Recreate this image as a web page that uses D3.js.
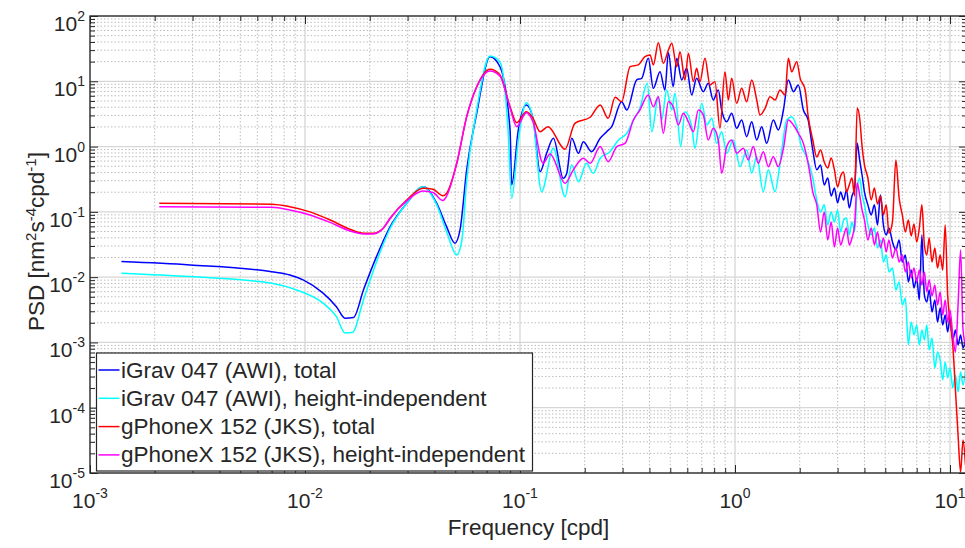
<!DOCTYPE html>
<html><head><meta charset="utf-8">
<script src="https://cdn.jsdelivr.net/npm/d3@7"></script>
<style>
body{margin:0;background:#fff}
svg{display:block}
text{font-family:"Liberation Sans",Arial,Helvetica,sans-serif;fill:#262626}
</style>
</head><body><svg id="c" width="965" height="548"></svg>
<script>
// ---------------- data ----------------
const seriesNames = [
  "iGrav 047 (AWI), total",
  "iGrav 047 (AWI), height-independent",
  "gPhoneX 152 (JKS), total",
  "gPhoneX 152 (JKS), height-independent"
];
const xTickValues = [1e-3, 1e-2, 1e-1, 1, 10];
const xTickExps = ["-3", "-2", "-1", "0", "1"];
const yTickValues = [1e-5, 1e-4, 1e-3, 1e-2, 1e-1, 1, 10, 100];
const yTickExps = ["-5", "-4", "-3", "-2", "-1", "0", "1", "2"];
const xLabel = "Frequency [cpd]";

// [frequency (cpd), PSD]
const igravTotal = [
[0.0014,0.0173],[0.00292,0.0154],[0.007,0.0121],[0.0085,0.0108],[0.0098,0.00906],[0.0121,0.00573],[0.014,0.00353],[0.01535,0.00235],[0.0168,0.0024],[0.0187,0.00637],[0.0215,0.0206],[0.0249,0.0593],[0.0297,0.135],[0.0355,0.243],[0.041,0.135],[0.0456,0.059],[0.0498,0.033],[0.0526,0.0528],[0.0565,0.44],[0.0629,3.24],[0.0725,23.8],[0.0807,16.7],[0.0899,1.8],[0.0915,0.258],[0.0982,1.8],[0.107,4.34],[0.115,2.71],[0.124,0.413],[0.133,0.79],[0.143,1.34],[0.159,0.327],[0.165,0.39],[0.174,1.34],[0.187,0.79],[0.197,1.19],[0.215,0.835],[0.236,1.34],[0.253,1.69],[0.267,2.02],[0.297,4.87],[0.314,3.63],[0.349,10.5],[0.368,11.1],[0.395,22.5],[0.417,7.81],[0.448,14.0],[0.472,7.36],[0.49,27.4],[0.516,8.26],[0.536,22.5],[0.565,10.5],[0.596,15.8],[0.629,6.17],[0.663,11.1],[0.712,6.93],[0.751,9.3],[0.792,5.17],[0.836,7.36],[0.867,3.63],[0.915,2.4],[0.965,3.24],[1.018,1.91],[1.074,2.55],[1.133,1.42],[1.196,2.4],[1.262,1.26],[1.331,2.02],[1.404,1.12],[1.507,2.55],[1.59,1.8],[1.68,3.63],[1.77,10.5],[1.87,6.93],[1.97,8.78],[2.08,3.63],[2.19,2.55],
[2.3,0.887],[2.4,0.44],[2.5,0.523],[2.6,0.258],[2.7,0.33],[2.8,0.175],[2.9,0.232],[3.0,0.137],[3.1,0.202],[3.2,0.152],[3.3,0.216],[3.4,0.115],[3.5,0.175],[3.6,0.232],[3.7,1.135],[3.8,0.624],[3.9,0.367],[4.0,0.202],[4.15,0.128],[4.3,0.0897],[4.45,0.128],[4.6,0.063],[4.75,0.182],[4.9,0.063],[5.05,0.0443],[5.2,0.0566],[5.4,0.0346],[5.6,0.0261],[5.8,0.037],[6.0,0.0171],[6.2,0.0219],[6.4,0.00844],[6.6,0.0129],[6.8,0.00684],[7.0,0.00973],[7.2,0.00448],[7.4,0.0443],[7.6,0.00533],[7.8,0.00417],[8.0,0.00637],[8.25,0.00293],[8.5,0.00448],[8.75,0.00206],[9.0,0.00337],[9.25,0.00185],[9.5,0.00264],[9.75,0.00145],[10.0,0.00237],[10.3,0.00109],[10.6,0.00155],[10.9,0.000916],[11.2,0.0013],[11.5,0.000824],[11.8,0.00109]
];

const igravHeightIndep = [
[0.0014,0.0115],[0.00292,0.0102],[0.007,0.00807],[0.00915,0.00637],[0.0121,0.00403],[0.014,0.00248],[0.01535,0.0014],[0.0166,0.00142],[0.0187,0.00448],[0.0215,0.0171],[0.0249,0.0561],[0.0297,0.135],[0.0355,0.243],[0.041,0.128],[0.0456,0.0492],[0.0508,0.0219],[0.0537,0.0372],[0.0565,0.308],[0.0629,3.63],[0.0725,24.4],[0.0807,19.8],[0.088,1.8],[0.0915,0.161],[0.0982,1.26],[0.107,4.70],[0.115,2.55],[0.126,0.204],[0.143,0.94],[0.162,0.171],[0.174,0.523],[0.187,0.29],[0.204,0.555],[0.219,0.39],
[0.236,0.662],[0.262,0.835],[0.287,1.26],[0.314,1.6],[0.337,2.55],[0.361,3.86],[0.391,9.3],[0.41,1.69],[0.44,5.81],[0.456,2.55],[0.481,7.36],[0.508,3.63],[0.526,6.55],[0.559,1.0],[0.585,3.42],[0.629,2.02],[0.651,0.94],[0.70,4.6],[0.74,2.14],[0.78,2.71],[0.822,1.12],[0.867,1.69],[0.915,0.79],[0.982,1.26],[1.055,0.492],[1.133,0.887],[1.196,0.39],[1.262,0.70],[1.354,0.204],[1.429,0.44],[1.535,0.204],[1.62,0.555],[1.74,2.55],[1.835,2.87],[1.936,2.02],[2.04,0.995],[2.15,0.70],
[2.3,0.33],[2.4,0.152],[2.5,0.0995],[2.6,0.128],[2.7,0.063],[2.8,0.0995],[2.9,0.07],[3.0,0.107],[3.1,0.0492],[3.2,0.0752],[3.3,0.0807],[3.4,0.0443],[3.5,0.07],[3.6,0.0492],[3.7,0.216],[3.8,0.33],[3.9,0.182],[4.0,0.128],[4.15,0.063],[4.3,0.0443],[4.45,0.0566],[4.6,0.028],[4.75,0.037],[4.9,0.0171],[5.05,0.0219],[5.2,0.012],[5.4,0.0138],[5.6,0.00637],[5.8,0.00844],[6.0,0.00375],[6.2,0.0048],[6.4,0.000916],[6.6,0.00206],[6.8,0.0013],[7.0,0.00185],[7.2,0.000916],[7.4,0.00155],[7.6,0.00109],[7.8,0.00185],[8.0,0.000767],[8.25,0.00117],[8.5,0.000406],[8.75,0.000716],[9.0,0.00054],[9.25,0.000267],[9.5,0.000502],[9.75,0.000286],[10.0,0.000406],[10.3,0.000201],[10.6,0.000318],[10.9,0.000175],[11.2,0.000353],[11.5,0.000223],[11.8,0.000379]
];

const gphoneTotal = [
[0.0021,0.135],[0.007,0.131],[0.0085,0.12],[0.01055,0.1],[0.0131,0.075],[0.0162,0.054],[0.0187,0.047],[0.0208,0.047],[0.0231,0.056],[0.0249,0.08],[0.0297,0.152],[0.0354,0.23],[0.0394,0.222],[0.0438,0.177],[0.0456,0.193],[0.0508,0.555],[0.0565,2.87],[0.0629,8.26],[0.0725,15.3],[0.0807,12.5],[0.0899,4.08],[0.0966,2.32],[0.107,3.42],[0.115,2.71],[0.124,1.69],[0.135,2.02],[0.159,0.94],[0.162,0.91],[0.18,2.27],[0.212,2.81],[0.236,4.34],[0.257,2.71],[0.277,5.69],[0.297,4.87],[0.325,16.7],[0.355,17.8],[0.381,23.8],[0.403,25.3],[0.417,17.8],[0.44,39],[0.464,18.9],[0.49,30.1],[0.508,38.2],[0.536,16.7],[0.555,28.4],[0.585,10.5],[0.607,26.8],[0.64,9.86],[0.663,15.8],[0.687,9.86],[0.725,22.5],[0.765,8.78],[0.807,9.86],[0.851,1.91],[0.898,14.0],[0.931,5.17],[0.965,11.1],[1.018,4.6],[1.074,7.81],[1.133,4.87],[1.196,10.5],[1.262,5.17],[1.307,3.05],[1.38,3.86],[1.455,5.81],[1.535,5.17],[1.62,7.36],[1.71,6.17],[1.77,22.5],[1.835,14.0],[1.936,20],[2.01,11.1],[2.12,7.36],[2.19,2.87],
[2.3,1.26],[2.4,0.693],[2.5,0.887],[2.6,0.581],[2.7,0.47],[2.8,0.669],[2.9,0.44],[3.0,0.24],[3.1,0.355],[3.2,0.408],[3.3,0.202],[3.4,0.258],[3.5,0.33],[3.6,0.175],[3.7,3.9],[3.8,2.74],[3.9,1.0],[4.0,0.523],[4.15,0.33],[4.3,0.152],[4.45,0.232],[4.6,0.132],[4.75,0.175],[4.9,0.0897],[5.05,0.128],[5.2,0.047],[5.4,0.07],[5.6,0.624],[5.8,0.163],[6.0,0.0897],[6.2,0.0492],[6.4,0.0752],[6.6,0.0428],[6.8,0.0653],[7.0,0.0346],[7.2,0.0566],[7.4,0.128],[7.6,0.0311],[7.8,0.0219],[8.0,0.0398],[8.25,0.0171],[8.5,0.028],[8.75,0.0138],[9.0,0.0219],[9.25,0.0129],[9.5,0.063],[9.75,0.00533],[10.0,0.00221],[10.3,0.000916],[10.6,0.000187],[10.9,0.0000383],[11.2,0.0000104],[11.5,0.0000321],[11.8,0.0000133]
];

const gphoneHeightIndep = [
[0.0021,0.12],[0.007,0.1175],[0.0085,0.107],[0.01055,0.0897],[0.0131,0.0689],[0.0162,0.051],[0.0187,0.0459],[0.0208,0.0459],[0.0231,0.056],[0.0249,0.08],[0.0297,0.147],[0.0354,0.209],[0.0394,0.198],[0.0438,0.149],[0.0456,0.175],[0.0508,0.555],[0.0565,2.87],[0.0629,8.18],[0.0725,14.4],[0.0807,12.1],[0.0899,3.9],[0.0966,2.02],[0.107,3.3],[0.115,2.38],[0.128,0.555],[0.138,0.771],[0.162,0.274],[0.177,0.44],[0.197,0.662],[0.212,0.555],[0.236,1.0],[0.257,0.587],[0.282,1.0],[0.308,1.12],[0.337,2.55],[0.361,3.63],[0.395,6.17],[0.417,4.08],[0.44,5.81],[0.464,1.6],[0.49,4.87],[0.516,4.08],[0.545,2.14],[0.575,3.24],[0.607,2.4],[0.64,1.69],[0.675,3.63],[0.712,3.05],[0.751,1.26],[0.792,1.91],[0.836,1.26],[0.867,0.39],[0.915,1.0],[0.965,1.26],[1.018,0.79],[1.093,0.94],[1.153,0.624],[1.216,1.0],[1.283,0.555],[1.354,0.835],[1.429,0.492],[1.507,0.70],[1.59,0.492],[1.68,0.94],[1.77,2.55],[1.87,2.14],[1.97,1.6],[2.08,1.12],[2.23,0.39],
[2.3,0.202],[2.4,0.128],[2.5,0.0492],[2.6,0.0995],[2.7,0.037],[2.8,0.07],[2.9,0.029],[3.0,0.0566],[3.1,0.0311],[3.2,0.0428],[3.3,0.0566],[3.4,0.0311],[3.5,0.0398],[3.6,0.063],[3.7,0.277],[3.8,0.182],[3.9,0.107],[4.0,0.0752],[4.15,0.037],[4.3,0.0566],[4.45,0.0311],[4.6,0.0492],[4.75,0.028],[4.9,0.0398],[5.05,0.0243],[5.2,0.037],[5.4,0.0197],[5.6,0.028],[5.8,0.0171],[6.0,0.0219],[6.2,0.012],[6.4,0.0171],[6.6,0.00973],[6.8,0.0138],[7.0,0.00844],[7.2,0.0129],[7.4,0.0076],[7.6,0.012],[7.8,0.00593],[8.0,0.00906],[8.25,0.00515],[8.5,0.0076],[8.75,0.00375],[9.0,0.00593],[9.25,0.00264],[9.5,0.00448],[9.75,0.00206],[10.0,0.00315],[10.3,0.0013],[10.6,0.000716],[10.9,0.00375],[11.2,0.0261],[11.5,0.00155],[11.8,0.000916]
];

const seriesData = [igravTotal, igravHeightIndep, gphoneTotal, gphoneHeightIndep];
const seriesColors = ["#0000ff", "#00ffff", "#ff0000", "#ff00ff"];

// ---------------- layout ----------------
const svg = d3.select("#c");
const pLeft = 90, pTop = 16, pBottom = 473;
const pxPerDecade = 215;
const xMax = 12;
const pRight = pLeft + pxPerDecade * Math.log10(xMax / 1e-3);
const x = d3.scaleLog().domain([1e-3, xMax]).range([pLeft, pRight]);
const y = d3.scaleLog().domain([1e-5, 100]).range([pBottom, pTop]);
const axisColor = "#262626";

const isMajor = v => Math.abs(Math.log10(v) - Math.round(Math.log10(v))) < 1e-9;
const xTicksAll = x.ticks();
const yTicksAll = y.ticks();

// grid
const grid = svg.append("g");
grid.selectAll(".xmin").data(xTicksAll.filter(v => !isMajor(v))).join("line")
  .attr("x1", d => x(d)).attr("x2", d => x(d)).attr("y1", pTop).attr("y2", pBottom)
  .attr("stroke", "#bdbdbd").attr("stroke-width", 1).attr("stroke-dasharray", "1.5,2");
grid.selectAll(".ymin").data(yTicksAll.filter(v => !isMajor(v))).join("line")
  .attr("y1", d => y(d)).attr("y2", d => y(d)).attr("x1", pLeft).attr("x2", pRight)
  .attr("stroke", "#bdbdbd").attr("stroke-width", 1).attr("stroke-dasharray", "1.5,2");
grid.selectAll(".xmaj").data(xTicksAll.filter(isMajor)).join("line")
  .attr("x1", d => x(d)).attr("x2", d => x(d)).attr("y1", pTop).attr("y2", pBottom)
  .attr("stroke", "#d6d6d6").attr("stroke-width", 1.3);
grid.selectAll(".ymaj").data(yTicksAll.filter(isMajor)).join("line")
  .attr("y1", d => y(d)).attr("y2", d => y(d)).attr("x1", pLeft).attr("x2", pRight)
  .attr("stroke", "#d6d6d6").attr("stroke-width", 1.3);

// clip
svg.append("clipPath").attr("id", "plotclip").append("rect")
  .attr("x", pLeft).attr("y", pTop).attr("width", pRight - pLeft).attr("height", pBottom - pTop);

// lines
const line = d3.line().x(d => x(d[0])).y(d => y(d[1])).curve(d3.curveMonotoneX);
const lines = svg.append("g").attr("clip-path", "url(#plotclip)");
seriesData.forEach((data, i) => {
  lines.append("path").datum(data).attr("d", line)
    .attr("fill", "none").attr("stroke", seriesColors[i]).attr("stroke-width", 1.5)
    .attr("stroke-linejoin", "round");
});

// axes ticks (inward)
function tickAxis(axisGen, tr, values, size) {
  const g = svg.append("g").attr("transform", tr)
    .call(axisGen.tickValues(values).tickSize(size).tickFormat(""));
  g.select(".domain").remove();
  g.selectAll(".tick line").attr("stroke", axisColor).attr("stroke-width", 1);
}
const xMaj = xTicksAll.filter(isMajor), xMin = xTicksAll.filter(v => !isMajor(v));
const yMaj = yTicksAll.filter(isMajor), yMin = yTicksAll.filter(v => !isMajor(v));
tickAxis(d3.axisBottom(x), `translate(0,${pBottom})`, xMaj, -8);
tickAxis(d3.axisBottom(x), `translate(0,${pBottom})`, xMin, -5);
tickAxis(d3.axisTop(x), `translate(0,${pTop})`, xMaj, -8);
tickAxis(d3.axisTop(x), `translate(0,${pTop})`, xMin, -5);
tickAxis(d3.axisLeft(y), `translate(${pLeft},0)`, yMaj, -8);
tickAxis(d3.axisLeft(y), `translate(${pLeft},0)`, yMin, -5);
tickAxis(d3.axisRight(y), `translate(${pRight},0)`, yMaj, -8);
tickAxis(d3.axisRight(y), `translate(${pRight},0)`, yMin, -5);

svg.append("rect").attr("x", pLeft).attr("y", pTop).attr("width", pRight - pLeft).attr("height", pBottom - pTop)
  .attr("fill", "none").attr("stroke", axisColor).attr("stroke-width", 1.3);

// tick labels
xTickValues.forEach((v, i) => {
  const t = svg.append("text").attr("x", x(v)).attr("y", pBottom + 35)
    .attr("text-anchor", "middle").style("font-size", "21px");
  t.append("tspan").text("10");
  t.append("tspan").attr("dy", -10).style("font-size", "14px").text(xTickExps[i]);
});
yTickValues.forEach((v, i) => {
  const t = svg.append("text").attr("x", pLeft - 5).attr("y", y(v) + 15)
    .attr("text-anchor", "end").style("font-size", "21px");
  t.append("tspan").text("10");
  t.append("tspan").attr("dy", -10).style("font-size", "14px").text(yTickExps[i]);
});

// axis labels
svg.append("text").attr("x", (pLeft + pRight) / 2).attr("y", 535)
  .attr("text-anchor", "middle").style("font-size", "22.5px").text(xLabel);

const yl = svg.append("text").attr("transform", `translate(44,${(pTop + pBottom) / 2 - 3}) rotate(-90)`)
  .attr("text-anchor", "middle").style("font-size", "22.5px");
yl.append("tspan").text("PSD [nm");
yl.append("tspan").attr("dy", -8).style("font-size", "15px").text("2");
yl.append("tspan").attr("dy", 8).text("s");
yl.append("tspan").attr("dy", -8).style("font-size", "15px").text("-4");
yl.append("tspan").attr("dy", 8).text("cpd");
yl.append("tspan").attr("dy", -8).style("font-size", "15px").text("-1");
yl.append("tspan").attr("dy", 8).text("]");

// legend
const lg = svg.append("g");
const lgX = 96.5, lgY = 353, lgW = 436, lgH = 118, rowH = 28.3;
lg.append("rect").attr("x", lgX).attr("y", lgY).attr("width", lgW).attr("height", lgH)
  .attr("fill", "#fff").attr("stroke", axisColor).attr("stroke-width", 1.2);
seriesNames.forEach((name, i) => {
  const cy = lgY + 17 + i * rowH;
  lg.append("line").attr("x1", lgX + 2).attr("x2", lgX + 23).attr("y1", cy).attr("y2", cy)
    .attr("stroke", seriesColors[i]).attr("stroke-width", 1.5);
  lg.append("text").attr("x", lgX + 24.5).attr("y", cy + 7.5)
    .style("font-size", "22.5px").text(name);
});
</script>
</body></html>
